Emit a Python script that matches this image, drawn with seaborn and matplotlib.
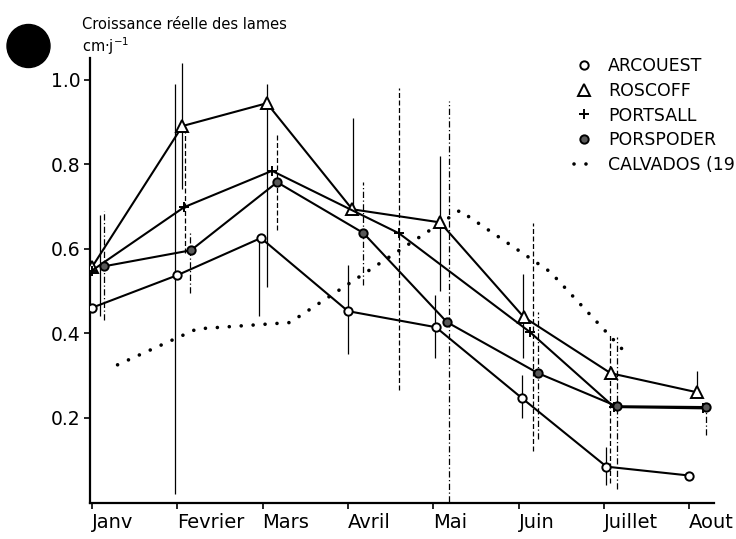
import matplotlib
matplotlib.use("Agg")
import matplotlib.pyplot as plt
from matplotlib.lines import Line2D
from matplotlib.patches import Ellipse
import seaborn as sns
import pandas as pd

# month axis labels (tick at 0..7)
months = ["Janv", "Fevrier", "Mars", "Avril", "Mai", "Juin", "Juillet", "Aout"]
yticks = [0.2, 0.4, 0.6, 0.8, 1.0]

# sampling positions in month units (0 = Janv) and growth values (cm/j)
arcouest_x = [0.0, 1.0, 1.98, 3.0, 4.03, 5.04, 6.03, 7.0]
arcouest_y = [0.46, 0.537, 0.625, 0.452, 0.414, 0.246, 0.084, 0.063]

roscoff_x = [0.0, 1.06, 2.05, 3.05, 4.08, 5.06, 6.08, 7.09]
roscoff_y = [0.556, 0.89, 0.944, 0.693, 0.662, 0.438, 0.305, 0.26]

portsall_x = [0.0, 1.08, 2.11, 3.6, 5.13, 6.12, 7.16]
portsall_y = [0.548, 0.698, 0.784, 0.636, 0.403, 0.225, 0.222]

porspoder_x = [0.14, 1.16, 2.17, 3.18, 4.16, 5.23, 6.15, 7.2]
porspoder_y = [0.558, 0.596, 0.757, 0.637, 0.426, 0.305, 0.227, 0.225]

calvados_x = [0.30, 1.23, 2.32, 4.31, 5.37, 6.27]
calvados_y = [0.325, 0.41, 0.425, 0.69, 0.545, 0.35]

# vertical spread bars: position, low, high
arcouest_err_x = [0.97, 1.96, 3.0, 4.02, 5.04, 6.03]
arcouest_err_lo = [0.02, 0.44, 0.35, 0.34, 0.20, 0.04]
arcouest_err_hi = [0.99, 0.63, 0.56, 0.49, 0.30, 0.13]

roscoff_err_x = [0.09, 1.06, 2.05, 3.06, 4.08, 5.05, 7.09]
roscoff_err_lo = [0.44, 0.74, 0.51, 0.69, 0.50, 0.34, 0.26]
roscoff_err_hi = [0.68, 1.04, 0.99, 0.91, 0.82, 0.54, 0.31]

portsall_err_x = [1.09, 2.17, 3.6, 5.17, 6.07]
portsall_err_lo = [0.59, 0.645, 0.265, 0.12, 0.045]
portsall_err_hi = [0.88, 0.87, 0.98, 0.66, 0.40]

porspoder_err_x = [0.14, 1.15, 3.18, 4.19, 5.23, 6.15, 7.2]
porspoder_err_lo = [0.43, 0.495, 0.514, 0.0, 0.15, 0.03, 0.16]
porspoder_err_hi = [0.69, 0.636, 0.757, 0.95, 0.45, 0.39, 0.22]

sns.set_theme(style="ticks")
plt.rcParams['font.family'] = ['DejaVu Sans']
plt.rcParams['text.color'] = 'black'

fig = plt.figure(figsize=(7.36, 5.39), dpi=100)
ax = fig.add_axes([90 / 736, 1 - 503 / 539, 624 / 736, 445 / 539])

# spread bars
err_sets = [
    (arcouest_err_x, arcouest_err_lo, arcouest_err_hi, "-"),
    (roscoff_err_x, roscoff_err_lo, roscoff_err_hi, "-"),
    (portsall_err_x, portsall_err_lo, portsall_err_hi, (0, (4, 2))),
    (porspoder_err_x, porspoder_err_lo, porspoder_err_hi, (0, (5, 2, 1, 2))),
]
for ex, lo, hi, ls in err_sets:
    ax.vlines(ex, lo, hi, colors="black", linewidth=0.9, linestyles=[ls], zorder=1)

# station series
series = [
    ("ARCOUEST", arcouest_x, arcouest_y, dict(marker="o", markersize=6, markerfacecolor="white")),
    ("ROSCOFF", roscoff_x, roscoff_y, dict(marker="^", markersize=8, markerfacecolor="white")),
    ("PORTSALL", portsall_x, portsall_y, dict(marker="+", markersize=7)),
    ("PORSPODER", porspoder_x, porspoder_y, dict(marker="o", markersize=6, markerfacecolor="0.35")),
]
for name, xs, ys, mk in series:
    df = pd.DataFrame({"x": xs, "y": ys})
    sns.lineplot(data=df, x="x", y="y", ax=ax, sort=False, color="black",
                 linewidth=1.5, markeredgecolor="black", markeredgewidth=1.4,
                 zorder=3, **mk)

calv = pd.DataFrame({"x": calvados_x, "y": calvados_y})
sns.lineplot(data=calv, x="x", y="y", ax=ax, sort=False, color="black",
             linewidth=2.6, linestyle=(0, (0.01, 3.3)), dash_capstyle="round", zorder=2)

ax.set_xlim(-0.023, 7.29)
ax.set_ylim(-0.002, 1.051)
ax.set_xticks(range(len(months)))
ax.set_xticklabels(months, ha="left")
ax.set_yticks(yticks)
ax.set_yticklabels([f"{v:.1f}" for v in yticks])
ax.set_xlabel("")
ax.set_ylabel("")
ax.tick_params(axis="both", direction="out", length=4, width=1.2,
               colors="black", pad=3)
ax.tick_params(axis="x", labelsize=14)
ax.tick_params(axis="y", labelsize=13.5)
sns.despine(ax=ax)
for sp in ("left", "bottom"):
    ax.spines[sp].set_linewidth(1.6)
    ax.spines[sp].set_color("black")

# legend
handles = [
    Line2D([], [], ls="none", marker="o", markersize=6, mfc="white", mec="black", mew=1.4),
    Line2D([], [], ls="none", marker="^", markersize=8, mfc="white", mec="black", mew=1.4),
    Line2D([], [], ls="none", marker="+", markersize=7, mec="black", mew=1.4),
    Line2D([], [], ls="none", marker="o", markersize=6, mfc="0.35", mec="black", mew=1.4),
    Line2D([], [], color="black", linewidth=2.6, linestyle=(0, (0.01, 3.3)), dash_capstyle="round"),
]
labels = ["ARCOUEST", "ROSCOFF", "PORTSALL", "PORSPODER", "CALVADOS (19"]
fig.legend(handles, labels, loc="upper left", bbox_to_anchor=(574 / 736, 1 - 57 / 539),
           frameon=False, fontsize=12.5, handlelength=1.1, handletextpad=0.85,
           labelspacing=0.39, borderpad=0, borderaxespad=0)

fig.text(82 / 736, 1 - 29 / 539, "Croissance réelle des lames", fontsize=10.5, va="baseline")
fig.text(82 / 736, 1 - 52 / 539, "cm·j$^{-1}$", fontsize=10.5, va="baseline")
fig.add_artist(Ellipse((28.5 / 736, 1 - 46 / 539), 43 / 736, 43 / 539,
                       transform=fig.transFigure, color="black"))

fig.savefig("out.png", dpi=100)
